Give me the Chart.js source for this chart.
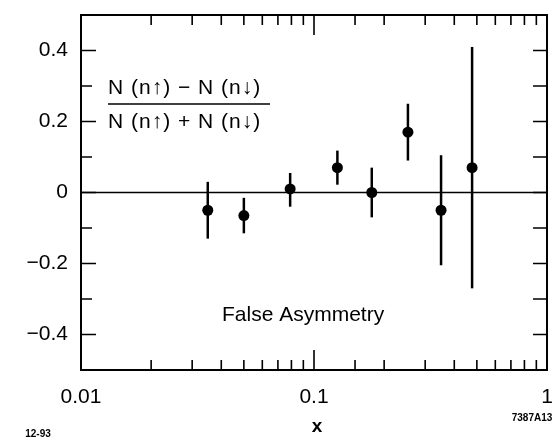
<!DOCTYPE html>
<html>
<head>
<meta charset="utf-8">
<script src="https://cdn.jsdelivr.net/npm/chart.js@4.4.1/dist/chart.umd.min.js"></script>
<style>
  html, body { margin: 0; padding: 0; background: #fff; }
  #wrap { width: 559px; height: 441px; position: relative; }
</style>
</head>
<body>
<div id="wrap"><canvas id="chart"></canvas></div>
<script>
// x (Bjorken x), asymmetry, error bar half-widths
const xValues = [0.035, 0.050, 0.079, 0.126, 0.177, 0.253, 0.351, 0.477];
const asym = [-0.05, -0.065, 0.01, 0.07, 0.0, 0.17, -0.05, 0.07];
const errUp = [0.08, 0.05, 0.045, 0.048, 0.07, 0.08, 0.155, 0.34];
const errDown = [0.08, 0.05, 0.05, 0.048, 0.07, 0.08, 0.155, 0.34];

const xLabels = [0.01, 0.1, 1];
const yLabels = [-0.4, -0.2, 0, 0.2, 0.4];

const FONT = "'Liberation Sans', Arial, sans-serif";

function isDecade(v) {
  const l = Math.log10(v);
  return Math.abs(l - Math.round(l)) < 1e-6;
}

function fmtY(v) {
  const r = Math.round(v * 10);
  if (r === 0) return "0";
  const s = (Math.abs(r) / 10).toFixed(1);
  return r < 0 ? "\u2212" + s : s;
}

const framePlugin = {
  id: "frame",
  beforeDatasetsDraw(chart) {
    const { ctx, chartArea: a, scales } = chart;
    const xs = scales.x, ys = scales.y;
    ctx.save();
    ctx.strokeStyle = "#000";
    ctx.lineCap = "butt";

    // zero line
    ctx.lineWidth = 1.6;
    ctx.beginPath();
    const y0 = ys.getPixelForValue(0);
    ctx.moveTo(a.left, y0);
    ctx.lineTo(a.right, y0);
    ctx.stroke();

    // error bars
    ctx.lineWidth = 2.5;
    for (let i = 0; i < xValues.length; i++) {
      const px = xs.getPixelForValue(xValues[i]);
      ctx.beginPath();
      ctx.moveTo(px, ys.getPixelForValue(asym[i] + errUp[i]));
      ctx.lineTo(px, ys.getPixelForValue(asym[i] - errDown[i]));
      ctx.stroke();
    }
    ctx.restore();
  },
  afterDraw(chart) {
    const { ctx, chartArea: a, scales } = chart;
    const xs = scales.x, ys = scales.y;
    ctx.save();
    ctx.strokeStyle = "#000";
    ctx.fillStyle = "#000";

    // frame
    ctx.lineWidth = 2;
    ctx.strokeRect(a.left, a.top, a.right - a.left, a.bottom - a.top);

    // inward ticks, x (bottom + top)
    ctx.lineWidth = 1.6;
    ctx.beginPath();
    xs.ticks.forEach(t => {
      const v = t.value;
      if (v <= 0.01 + 1e-9 || v >= 1 - 1e-9) return;
      const px = xs.getPixelForValue(v);
      const len = isDecade(v) ? 20 : 10;
      ctx.moveTo(px, a.bottom);
      ctx.lineTo(px, a.bottom - len);
      ctx.moveTo(px, a.top);
      ctx.lineTo(px, a.top + len);
    });
    // inward ticks, y (left + right)
    ys.ticks.forEach(t => {
      const v = t.value;
      if (Math.abs(Math.abs(v) - 0.5) < 1e-6) return;
      const py = ys.getPixelForValue(v);
      const major = Math.round(v * 10) % 2 === 0;
      ctx.moveTo(a.left, py);
      ctx.lineTo(a.left + (major ? 15 : 11), py);
      ctx.moveTo(a.right, py);
      ctx.lineTo(a.right - 14, py);
    });
    ctx.stroke();

    // fraction annotation
    ctx.font = "21px " + FONT;
    ctx.letterSpacing = "1px";
    ctx.textBaseline = "middle";
    ctx.textAlign = "left";
    const fx = a.left + 27;
    ctx.fillText("N (n\u2191) \u2212 N (n\u2193)", fx, a.top + 73);
    ctx.fillText("N (n\u2191) + N (n\u2193)", fx, a.top + 107);
    ctx.lineWidth = 1.6;
    ctx.beginPath();
    ctx.moveTo(fx, a.top + 89);
    ctx.lineTo(fx + 162, a.top + 89);
    ctx.stroke();
    ctx.letterSpacing = "0px";

    // panel label
    ctx.font = "21px " + FONT;
    ctx.fillText("False Asymmetry", a.left + 141, a.top + 300);

    // axis title and figure codes
    ctx.textAlign = "center";
    ctx.font = "bold 19px " + FONT;
    ctx.fillText("x", (a.left + a.right) / 2 + 3, 427);
    ctx.font = "bold 10px " + FONT;
    ctx.fillText("12-93", 38, 434);
    ctx.fillText("7387A13", 532, 418);
    ctx.restore();
  }
};

new Chart(document.getElementById("chart"), {
  type: "scatter",
  data: {
    datasets: [{
      data: xValues.map((x, i) => ({ x, y: asym[i] })),
      backgroundColor: "#000",
      borderColor: "#000",
      pointRadius: 5.5,
      pointHoverRadius: 5.5,
      borderWidth: 0
    }]
  },
  options: {
    responsive: true,
    maintainAspectRatio: false,
    animation: false,
    events: [],
    layout: { padding: { top: 15, right: 12, left: 0, bottom: 0 } },
    plugins: { legend: { display: false }, tooltip: { enabled: false } },
    scales: {
      x: {
        type: "logarithmic",
        min: 0.01,
        max: 1,
        grid: { display: false, drawTicks: false },
        border: { display: false },
        afterFit(s) { s.height = 71; s.paddingLeft = 0; s.paddingRight = 0; },
        ticks: {
          padding: 15,
          autoSkip: false,
          maxRotation: 0,
          color: "#000",
          font: { family: FONT, size: 21 },
          callback(v) {
            const hit = xLabels.find(l => Math.abs(l - v) < 1e-9);
            return hit === undefined ? "" : String(hit);
          }
        }
      },
      y: {
        min: -0.5,
        max: 0.5,
        grid: { display: false, drawTicks: false },
        border: { display: false },
        afterFit(s) { s.width = 81; s.paddingTop = 0; s.paddingBottom = 0; },
        ticks: {
          stepSize: 0.1,
          padding: 13,
          color: "#000",
          font: { family: FONT, size: 21 },
          callback(v) {
            const hit = yLabels.find(l => Math.abs(l - v) < 1e-6);
            return hit === undefined ? "" : fmtY(hit);
          }
        }
      }
    }
  },
  plugins: [framePlugin]
});
</script>
</body>
</html>
